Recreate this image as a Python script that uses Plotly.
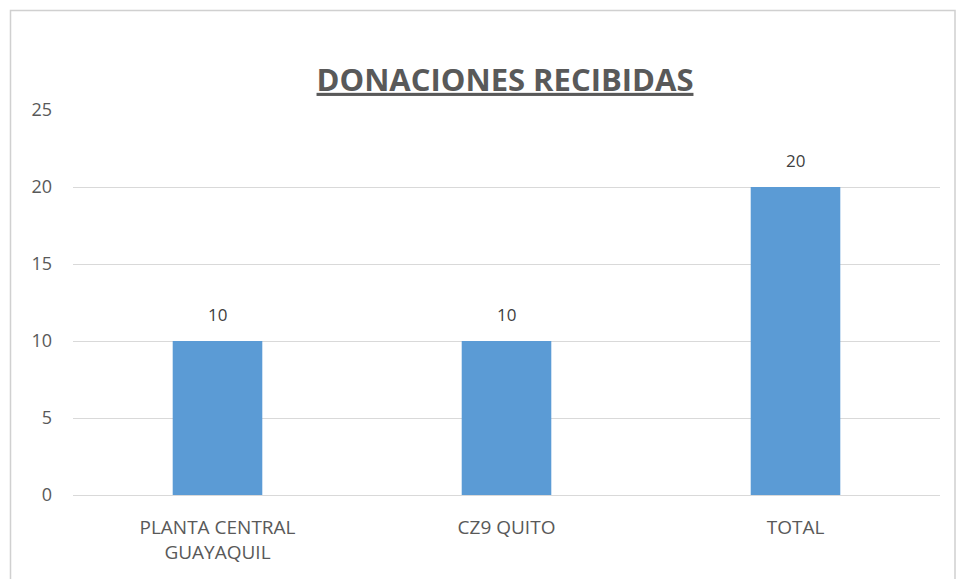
import plotly.graph_objects as go

categories = ["PLANTA CENTRAL<br>GUAYAQUIL", "CZ9 QUITO", "TOTAL"]
values = [10, 10, 20]
y_ticks = [0, 5, 10, 15, 20, 25]
title_text = "DONACIONES RECIBIDAS"

L, R, T, B = 73, 17, 110, 84
W, H = 957, 579
pw, ph = W - L - R, H - T - B

def px_x(px):
    return (px - L) / pw

def px_y(py):
    return (H - B - py) / ph

fig = go.Figure()
fig.add_trace(go.Bar(
    x=categories, y=values,
    marker=dict(color="#5B9BD5", line=dict(width=0)),
    cliponaxis=False,
))

annotations = [dict(x=c, y=v, xref="x", yref="y", text=str(v), showarrow=False,
                    yanchor="bottom", yshift=13,
                    font=dict(size=17, color="#404040", family="Open Sans"))
               for c, v in zip(categories, values)]

fig.update_layout(
    width=W, height=H,
    margin=dict(l=L, r=R, t=T, b=B),
    paper_bgcolor="white", plot_bgcolor="white",
    bargap=0.69,
    showlegend=False,
    title=dict(text="<b><u>" + title_text + "</u></b>", x=505 / W, xanchor="center",
               y=1 - 80 / H, yanchor="middle",
               font=dict(size=31, color="#595959", family="Open Sans")),
    font=dict(family="Open Sans", color="#595959"),
    xaxis=dict(showgrid=False, showline=False, ticks="", ticklabelstandoff=19,
               tickfont=dict(size=19, color="#595959")),
    yaxis=dict(range=[0, 25], tickvals=y_ticks, showgrid=True, gridcolor="#D9D9D9",
               gridwidth=1, zeroline=True, zerolinecolor="#D9D9D9", zerolinewidth=1,
               showline=False, ticks="", ticklabelstandoff=20,
               tickfont=dict(size=18, color="#595959")),
    annotations=annotations,
    shapes=[dict(type="rect", xref="paper", yref="paper",
                 x0=px_x(10.5), x1=px_x(955), y0=px_y(585), y1=px_y(10.5),
                 line=dict(color="#D0D0D0", width=1.5), layer="below")],
)

fig.write_html("out.html", config={"displayModeBar": False},
               post_script="document.body.style.margin='0';document.body.style.overflow='hidden';")
